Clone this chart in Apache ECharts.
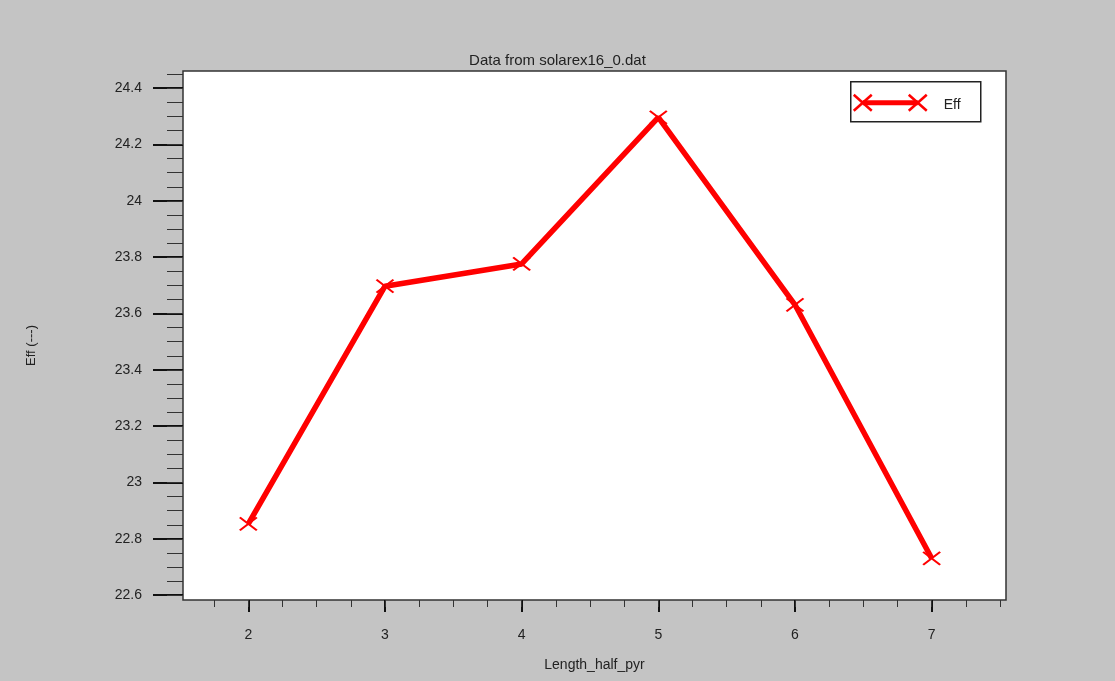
<!DOCTYPE html>
<html>
<head>
<meta charset="utf-8">
<title>Data from solarex16_0.dat</title>
<script src="https://cdn.jsdelivr.net/npm/echarts@6/dist/echarts.min.js"></script>
<style>
  html, body { margin: 0; padding: 0; background: #c4c4c4; }
  #chart { width: 1115px; height: 681px; }
</style>
</head>
<body>
<div id="chart"></div>
<script>
// Efficiency versus half-pyramid length
const lengths = [2, 3, 4, 5, 6, 7];
const eff = [22.853, 23.697, 23.776, 24.296, 23.631, 22.731];

// Tick labels
const xTickValues = [2, 3, 4, 5, 6, 7];
const yTickValues = [22.6, 22.8, 23, 23.2, 23.4, 23.6, 23.8, 24, 24.2, 24.4];

// Axis extents
const xRange = [1.522, 7.544];
const yRange = [22.583, 24.461];

// Minor ticks: quarters on x, 0.05 steps on y
const xMinor = [];
for (let i = 7; i <= 30; i++) xMinor.push(i / 4);
const yMinor = [];
for (let i = 452; i <= 489; i++) yMinor.push(Math.round(i * 5) / 100);

const FONT = 'Liberation Sans, Arial, sans-serif';
const TEXT = '#222';
const RED = '#ff0000';
const cross = 'path://M0,0 L16,12 M16,0 L0,12';

const chart = echarts.init(document.getElementById('chart'), null, { renderer: 'canvas' });

const baseAxis = {
  type: 'value',
  splitLine: { show: false },
  axisLine: { show: false }
};

chart.setOption({
  backgroundColor: '#c4c4c4',
  animation: false,
  title: {
    text: 'Data from solarex16_0.dat',
    left: 'center',
    top: 48,
    textStyle: { fontFamily: FONT, fontSize: 15, fontWeight: 'normal', color: TEXT }
  },
  grid: {
    left: 183, top: 71, right: 109, bottom: 81,
    show: true,
    backgroundColor: '#ffffff',
    borderColor: '#333',
    borderWidth: 1.5
  },
  xAxis: [
    Object.assign({}, baseAxis, {
      min: xRange[0], max: xRange[1],
      name: 'Length_half_pyr',
      nameLocation: 'middle',
      nameGap: 58,
      nameTextStyle: { fontFamily: FONT, fontSize: 14, color: TEXT },
      axisTick: { show: true, customValues: xTickValues, length: 12, lineStyle: { color: '#111', width: 2 } },
      axisLabel: { customValues: xTickValues, margin: 28, fontFamily: FONT, fontSize: 14, color: TEXT }
    }),
    Object.assign({}, baseAxis, {
      position: 'bottom',
      min: xRange[0], max: xRange[1],
      axisTick: { show: true, customValues: xMinor, length: 7, lineStyle: { color: '#333', width: 1 } },
      axisLabel: { show: false }
    })
  ],
  yAxis: [
    Object.assign({}, baseAxis, {
      min: yRange[0], max: yRange[1],
      name: 'Eff (---)',
      nameLocation: 'middle',
      nameGap: 145,
      nameTextStyle: { fontFamily: FONT, fontSize: 13, color: TEXT, padding: [0, 20, 0, 0] },
      axisTick: { show: true, customValues: yTickValues, length: 30, lineStyle: { color: '#111', width: 2 } },
      axisLabel: { customValues: yTickValues, margin: 41, fontFamily: FONT, fontSize: 14, color: TEXT }
    }),
    Object.assign({}, baseAxis, {
      position: 'left',
      min: yRange[0], max: yRange[1],
      axisTick: { show: true, customValues: yMinor, length: 16, lineStyle: { color: '#333', width: 1 } },
      axisLabel: { show: false }
    })
  ],
  series: [{
    name: 'Eff',
    type: 'line',
    xAxisIndex: 0,
    yAxisIndex: 0,
    data: lengths.map((x, i) => [x, eff[i]]),
    lineStyle: { color: RED, width: 5.5 },
    symbol: cross,
    symbolSize: [17, 13],
    showAllSymbol: true,
    itemStyle: { color: RED, borderColor: RED, borderWidth: 2 },
    z: 3
  }],
  graphic: [{
    type: 'group',
    left: 850,
    top: 81,
    children: [
      { type: 'rect', shape: { x: 0, y: 0, width: 130, height: 40 },
        style: { fill: '#fff', stroke: '#222', lineWidth: 1.5 } },
      { type: 'line', shape: { x1: 12, y1: 21, x2: 67, y2: 21 },
        style: { stroke: RED, lineWidth: 5 } },
      { type: 'line', shape: { x1: 3, y1: 13, x2: 21, y2: 29 }, style: { stroke: RED, lineWidth: 2.5 } },
      { type: 'line', shape: { x1: 21, y1: 13, x2: 3, y2: 29 }, style: { stroke: RED, lineWidth: 2.5 } },
      { type: 'line', shape: { x1: 58, y1: 13, x2: 76, y2: 29 }, style: { stroke: RED, lineWidth: 2.5 } },
      { type: 'line', shape: { x1: 76, y1: 13, x2: 58, y2: 29 }, style: { stroke: RED, lineWidth: 2.5 } },
      { type: 'text', x: 93, y: 23,
        style: { text: 'Eff', fontFamily: FONT, fontSize: 14, fill: TEXT, verticalAlign: 'middle' } }
    ]
  }]
});
</script>
</body>
</html>
